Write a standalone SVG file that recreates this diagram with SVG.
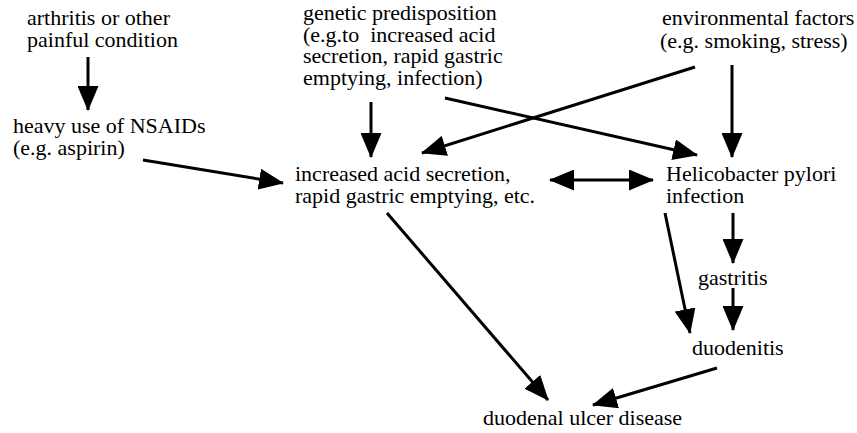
<svg xmlns="http://www.w3.org/2000/svg" width="857" height="433" viewBox="0 0 857 433">
<style>
.t text { font-size: 22px; fill: #000; white-space: pre; }
.c line { stroke: #000; stroke-width: 3; marker-end: url(#ah); }
</style>
<defs>
<marker id="ah" markerUnits="userSpaceOnUse" markerWidth="25" markerHeight="21" refX="24" refY="10.5" orient="auto-start-reverse" viewBox="0 0 25 21">
<path d="M0,0 L25,10.5 L0,21 z" fill="#000"/>
</marker>
</defs>
<rect width="857" height="433" fill="#fff"/>
<g class="t" font-family="Liberation Serif, Times New Roman, DejaVu Serif, serif">
<g id="arthritis"><text x="27" y="25">arthritis or other</text><text x="27" y="47">painful condition</text></g>
<g id="nsaids"><text x="13" y="133">heavy use of NSAIDs</text><text x="13" y="155">(e.g. aspirin)</text></g>
<g id="genetic"><text x="303" y="20">genetic predisposition</text><text x="303" y="42">(e.g.to  increased acid</text><text x="303" y="63">secretion, rapid gastric</text><text x="303" y="85">emptying, infection)</text></g>
<g id="environmental"><text x="662" y="25">environmental factors</text><text x="660" y="48">(e.g. smoking, stress)</text></g>
<g id="acid"><text x="295" y="181">increased acid secretion,</text><text x="295" y="203">rapid gastric emptying, etc.</text></g>
<g id="hpylori"><text x="666" y="181">Helicobacter pylori</text><text x="666" y="203">infection</text></g>
<g id="gastritis"><text x="698" y="285">gastritis</text></g>
<g id="duodenitis"><text x="692" y="355">duodenitis</text></g>
<g id="ulcer"><text x="483" y="425">duodenal ulcer disease</text></g>
</g>
<g id="connectors" class="c">
<line x1="88" y1="57" x2="88" y2="110"/>
<line x1="143" y1="160" x2="283" y2="183"/>
<line x1="371" y1="102" x2="371" y2="157"/>
<line x1="695" y1="67" x2="422" y2="153"/>
<line x1="445" y1="98" x2="697" y2="155"/>
<line x1="732" y1="65" x2="732" y2="157"/>
<line x1="550" y1="180" x2="653" y2="180" marker-start="url(#ah)"/>
<line x1="387" y1="213" x2="548" y2="400"/>
<line x1="665" y1="213" x2="690" y2="333"/>
<line x1="733" y1="213" x2="733" y2="263"/>
<line x1="733" y1="288" x2="733" y2="330"/>
<line x1="717" y1="368" x2="593" y2="405"/>
</g>
</svg>
